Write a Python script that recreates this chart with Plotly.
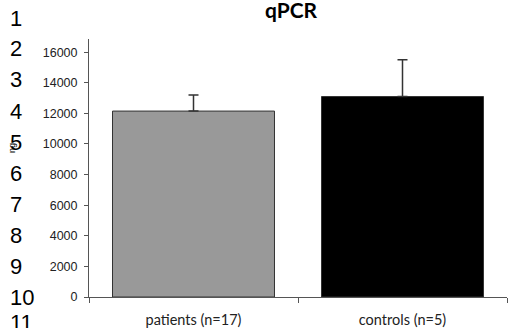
import plotly.graph_objects as go

categories = ["patients (n=17)", "controls (n=5)"]
means = [12150, 13100]
errors_up = [1050, 2400]
bar_colors = ["#999999", "#000000"]
y_ticks = [0, 2000, 4000, 6000, 8000, 10000, 12000, 14000, 16000]
line_numbers = [str(i) for i in range(1, 12)]

W, H = 508, 328
L, R, T, B = 89, 1, 39, 31
plot_h = H - T - B

fig = go.Figure()
fig.add_trace(go.Bar(
    x=categories, y=means,
    marker=dict(color=bar_colors, line=dict(color="#333333", width=1)),
    width=0.775,
    error_y=dict(type="data", array=errors_up, arrayminus=[0, 0], symmetric=False,
                 color="#333333", thickness=1.5, width=5),
))

annotations = []
# scanned line numbers at left margin
for i, t in enumerate(line_numbers):
    ypx = min(18 + i * 31, 322)
    annotations.append(dict(
        text=t, xref="paper", yref="paper",
        x=(8 - L) / (W - L - R), y=(H - B - ypx) / plot_h,
        xanchor="left", yanchor="middle", showarrow=False,
        font=dict(family="Liberation Sans, Arial", size=22, color="#000000"),
    ))
annotations.append(dict(
    text="ng", xref="paper", yref="paper",
    x=(12 - L) / (W - L - R), y=(H - B - 148) / plot_h,
    xanchor="center", yanchor="middle", showarrow=False, textangle=-90,
    font=dict(family="Liberation Sans, Arial", size=9, color="#000000"),
))

fig.update_layout(
    width=W, height=H,
    margin=dict(l=L, r=R, t=T, b=B, pad=0),
    paper_bgcolor="white", plot_bgcolor="white",
    showlegend=False,
    title=dict(text="<b>qPCR</b>", x=(291 - L) / (W - L - R), xref="paper", xanchor="center",
               y=1 - 11 / H, yanchor="middle",
               font=dict(family="Lato, Open Sans", size=21, color="#000000")),
    annotations=annotations,
    bargap=0.225,
)
fig.update_yaxes(
    range=[0, 16860], tickvals=y_ticks, ticktext=[str(v) for v in y_ticks],
    showline=True, linecolor="#555555", linewidth=1,
    ticks="outside", ticklen=4, tickcolor="#555555",
    showgrid=False, zeroline=False,
    tickfont=dict(family="Liberation Sans, Arial", size=12.5, color="#222222"),
    ticklabelstandoff=4,
)
fig.update_xaxes(
    showline=True, linecolor="#555555", linewidth=1,
    ticks="outside", ticklen=5, tickcolor="#555555", tickson="boundaries",
    showgrid=False, zeroline=False,
    tickfont=dict(family="Lato, Open Sans", size=14.5, color="#222222"),
    ticklabelstandoff=10,
)
fig.write_html("out.html")
